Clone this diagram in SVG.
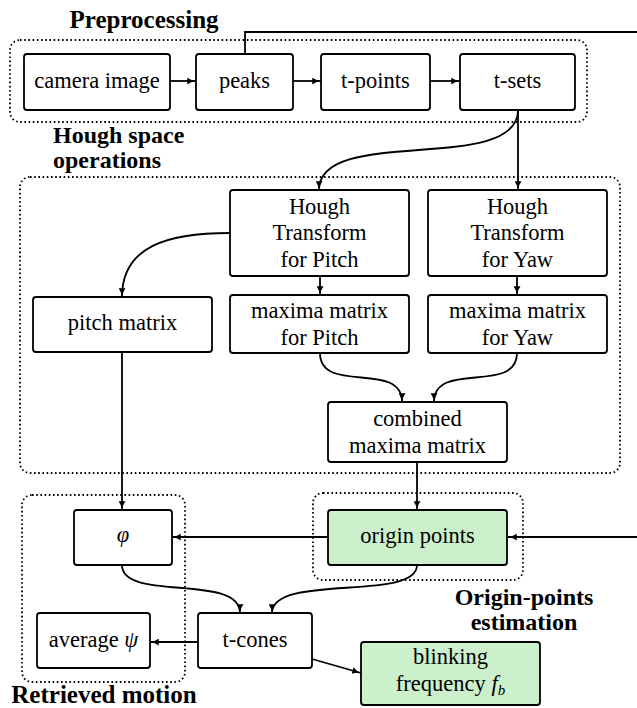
<svg xmlns="http://www.w3.org/2000/svg" width="637" height="708" viewBox="0 0 637 708">
<defs>
<marker id="ah" viewBox="0 0 10 8" refX="10" refY="4" markerWidth="9" markerHeight="7" orient="auto" markerUnits="userSpaceOnUse">
<path d="M0,0 Q4,3.2 10,4 Q4,4.8 0,8 z" fill="#000"/>
</marker>
</defs>
<style>
.box{fill:#fff;stroke:#000;stroke-width:1.8}
.green{fill:#ccf0cc}
.grp{fill:none;stroke:#000;stroke-width:1.8;stroke-dasharray:1.6 2.6}
text{font-family:"Times New Roman",Times,"Liberation Serif","Nimbus Roman",FreeSerif,"Noto Serif","DejaVu Serif",serif}
.t{font-size:22.5px;text-anchor:middle;fill:#000}
.b{font-size:25px;font-weight:bold;fill:#000}
.b2{font-size:24px;font-weight:bold;fill:#000}
.c{fill:none;stroke:#000;stroke-width:1.8}
.a{marker-end:url(#ah)}
</style>

<g id="group-preprocessing">
<rect class="grp" x="10" y="40" width="577" height="82" rx="10"/>
<text class="b" x="144" y="28" text-anchor="middle">Preprocessing</text>
</g>
<g id="group-hough">
<rect class="grp" x="20" y="177" width="600" height="296" rx="10"/>
<text class="b2" x="53" y="143">Hough space</text>
<text class="b2" x="53" y="168">operations</text>
</g>
<g id="group-retrieved">
<rect class="grp" x="22" y="495" width="163" height="187" rx="10"/>
<text class="b" x="104" y="703" text-anchor="middle">Retrieved motion</text>
</g>
<g id="group-origin">
<rect class="grp" x="313" y="493" width="210" height="87" rx="10"/>
<text class="b2" x="524" y="605" text-anchor="middle">Origin-points</text>
<text class="b2" x="524" y="630" text-anchor="middle">estimation</text>
</g>

<g id="connectors">
<path class="c a" d="M170,81 H196"/>
<path class="c a" d="M293,81 H321"/>
<path class="c a" d="M430,81 H460"/>
<path class="c a" d="M245,54 V32 H660 V537 H508"/>
<path class="c a" d="M518,110 V190"/>
<path class="c a" d="M518,110 C518,175 319,125 319,190"/>
<path class="c a" d="M320,276 V295"/>
<path class="c a" d="M517,276 V295"/>
<path class="c a" d="M230,233 C168,233 122,246 122,297"/>
<path class="c a" d="M122,352 V510"/>
<path class="c a" d="M320,353 C320,395 402,360 402,402"/>
<path class="c a" d="M517,353 C517,395 434,360 434,402"/>
<path class="c a" d="M417,462 V510"/>
<path class="c a" d="M328,537 H172"/>
<path class="c a" d="M122,565 C122,602 240,573 240,613"/>
<path class="c a" d="M417,565 C417,602 272,573 272,613"/>
<path class="c a" d="M198,642 H150"/>
<path class="c a" d="M312,659 L361,673"/>
</g>

<g id="n-camera"><rect class="box" x="24" y="54" width="146" height="56" rx="3"/><text class="t" x="97" y="88">camera image</text></g>
<g id="n-peaks"><rect class="box" x="196" y="54" width="97" height="56" rx="3"/><text class="t" x="244.5" y="88">peaks</text></g>
<g id="n-tpoints"><rect class="box" x="321" y="54" width="109" height="56" rx="3"/><text class="t" x="375.5" y="88">t-points</text></g>
<g id="n-tsets"><rect class="box" x="460" y="54" width="115" height="56" rx="3"/><text class="t" x="517.5" y="88">t-sets</text></g>

<g id="n-hough-pitch"><rect class="box" x="230" y="190" width="179" height="86" rx="3"/>
<text class="t" x="319.5" y="214">Hough</text><text class="t" x="319.5" y="240">Transform</text><text class="t" x="319.5" y="267">for Pitch</text></g>
<g id="n-hough-yaw"><rect class="box" x="428" y="190" width="179" height="86" rx="3"/>
<text class="t" x="517.5" y="214">Hough</text><text class="t" x="517.5" y="240">Transform</text><text class="t" x="517.5" y="267">for Yaw</text></g>
<g id="n-pitch-matrix"><rect class="box" x="33" y="297" width="179" height="55" rx="3"/><text class="t" x="122.5" y="330">pitch matrix</text></g>
<g id="n-maxima-pitch"><rect class="box" x="230" y="295" width="179" height="58" rx="3"/>
<text class="t" x="319.5" y="318">maxima matrix</text><text class="t" x="319.5" y="345">for Pitch</text></g>
<g id="n-maxima-yaw"><rect class="box" x="428" y="295" width="179" height="58" rx="3"/>
<text class="t" x="517.5" y="318">maxima matrix</text><text class="t" x="517.5" y="345">for Yaw</text></g>
<g id="n-combined"><rect class="box" x="328" y="402" width="179" height="60" rx="3"/>
<text class="t" x="417.5" y="426">combined</text><text class="t" x="417.5" y="453">maxima matrix</text></g>

<g id="n-origin"><rect class="box green" x="328" y="510" width="179" height="55" rx="3"/><text class="t" x="417.5" y="543">origin points</text></g>
<g id="n-phi"><rect class="box" x="74" y="510" width="98" height="55" rx="3"/><text class="t" x="123" y="542" font-style="italic">φ</text></g>
<g id="n-tcones"><rect class="box" x="198" y="613" width="114" height="55" rx="3"/><text class="t" x="255" y="647">t-cones</text></g>
<g id="n-average"><rect class="box" x="37" y="613" width="113" height="55" rx="3"/><text class="t" x="93.5" y="647">average <tspan font-style="italic">ψ</tspan></text></g>
<g id="n-blinking"><rect class="box green" x="361" y="642" width="179" height="63" rx="3"/>
<text class="t" x="450.5" y="664">blinking</text><text class="t" x="450.5" y="691">frequency <tspan font-style="italic">f</tspan><tspan font-style="italic" font-size="15px" dy="4">b</tspan></text></g>
</svg>
